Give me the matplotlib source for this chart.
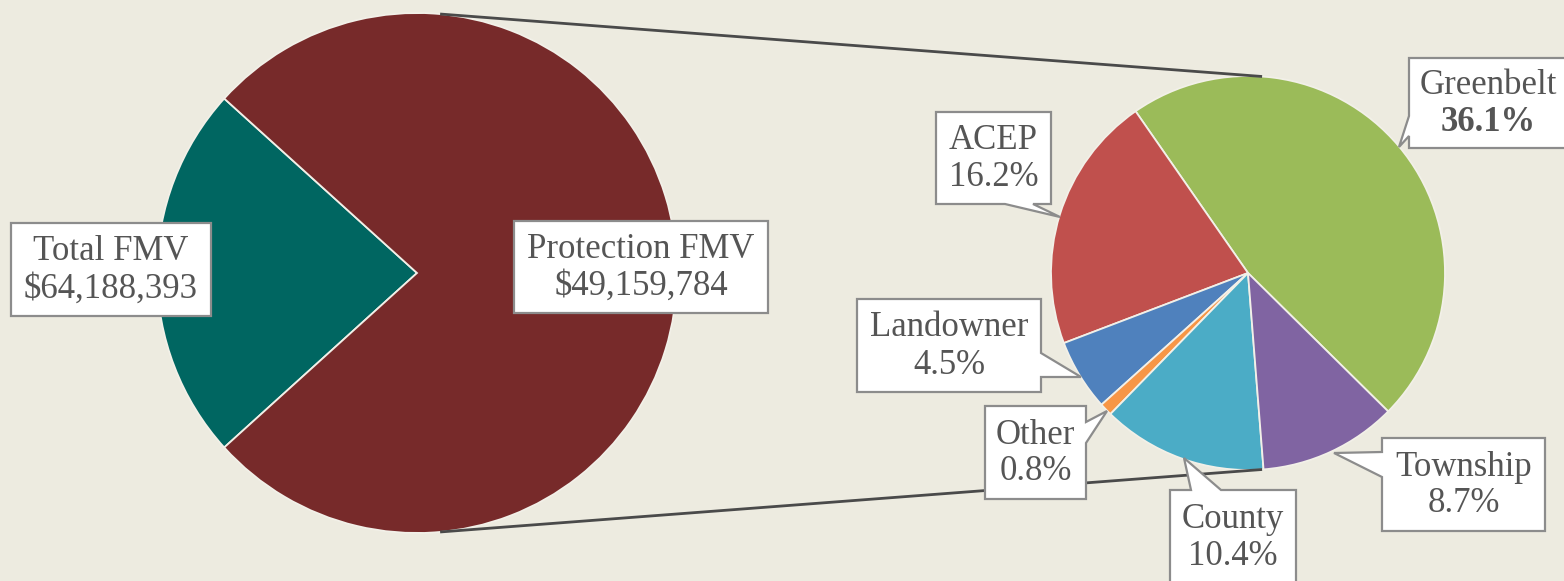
import math
import matplotlib
matplotlib.use("Agg")
import matplotlib.pyplot as plt
from matplotlib.patches import Polygon

# ---------------- data ----------------
fmv_total = 64188393
fmv_protection = 49159784
big_labels = ["Total FMV", "Protection FMV"]
big_amounts = [fmv_total, fmv_protection]

small_labels = ["Greenbelt", "ACEP", "Landowner", "Other", "County", "Township"]
small_pcts = [36.1, 16.2, 4.5, 0.8, 10.4, 8.7]

# ---------------- style ----------------
W, H = 1564, 581
BG = "#EDEBE0"
big_colors = ["#006661", "#772A2A"]
small_colors = ["#9BBB59", "#C0504D", "#4F81BD", "#F79646", "#4BACC6", "#8064A2"]
TXT = "#555555"
EDGE = "#8C8C8C"
FONT = "Liberation Serif"
FS = 25

fig = plt.figure(figsize=(W / 100, H / 100), dpi=100)
fig.patch.set_facecolor(BG)
ax = fig.add_axes([0, 0, 1, 1])
ax.set_facecolor(BG)


def Y(y):
    return H - y


# big pie (remainder slice first, then protection)
big_center = (417, Y(273))
big_r = 260
big_values = [fmv_total - fmv_protection, fmv_protection]
teal_deg = 360 * big_values[0] / sum(big_values)
ax.pie(big_values, colors=big_colors, center=big_center, radius=big_r,
       startangle=180 - teal_deg / 2, counterclock=True,
       wedgeprops=dict(edgecolor="#F2F0E8", linewidth=1.3))

# small pie
small_center = (1248, Y(273))
small_r = 197
green_deg = 360 * small_pcts[0] / sum(small_pcts)
ax.pie(small_pcts, colors=small_colors, center=small_center, radius=small_r,
       startangle=124.8 - green_deg, counterclock=True,
       wedgeprops=dict(edgecolor="#F2F0E8", linewidth=1.3))

ax.set_xlim(0, W)
ax.set_ylim(0, H)
ax.set_aspect("equal")
ax.axis("off")

# connector lines
for a1, a2 in [(84.9, 85.9), (-84.9, -85.9)]:
    p1 = (big_center[0] + big_r * math.cos(math.radians(a1)),
          big_center[1] + big_r * math.sin(math.radians(a1)))
    p2 = (small_center[0] + small_r * math.cos(math.radians(a2)),
          small_center[1] + small_r * math.sin(math.radians(a2)))
    ax.plot([p1[0], p2[0]], [p1[1], p2[1]], color="#4A4A4A", lw=2.0,
            solid_capstyle="butt", zorder=3)


def callout(box, text_lines, side=None, base=None, tip=None, bold_second=False):
    x0, y0, x1, y1 = box
    TL, TR, BR, BL = (x0, y0), (x1, y0), (x1, y1), (x0, y1)
    verts = [TL]
    if side == "top":
        verts += [(base[0], y0), tip, (base[1], y0)]
    verts.append(TR)
    if side == "right":
        verts += [(x1, base[0]), tip, (x1, base[1])]
    verts.append(BR)
    if side == "bottom":
        verts += [(base[1], y1), tip, (base[0], y1)]
    verts.append(BL)
    if side == "left":
        verts += [(x0, base[1]), tip, (x0, base[0])]
    verts = [(vx, Y(vy)) for vx, vy in verts]
    ax.add_patch(Polygon(verts, closed=True, facecolor="white",
                         edgecolor=EDGE, linewidth=1.6, zorder=5,
                         joinstyle="miter"))
    cx = (x0 + x1) / 2
    cy = (y0 + y1) / 2
    ax.text(cx, Y(cy - 9), text_lines[0], ha="center", va="baseline",
            family=FONT, fontsize=FS, color=TXT, zorder=6)
    ax.text(cx, Y(cy + 28), text_lines[1], ha="center", va="baseline",
            family=FONT, fontsize=FS, color=TXT, zorder=6,
            fontweight="bold" if bold_second else "normal")


# big pie labels
callout((11, 223, 211, 316), [big_labels[0], f"${big_amounts[0]:,}"])
callout((514, 221, 768, 313), [big_labels[1], f"${big_amounts[1]:,}"])

# small pie labels
small_boxes = {
    "Greenbelt": ((1409, 58, 1567, 148), "left", (116, 136), (1399, 147)),
    "ACEP": ((936, 112, 1051, 204), "bottom", (1005, 1033), (1060, 217)),
    "Landowner": ((857, 299, 1041, 392), "right", (353, 377), (1081, 377)),
    "Other": ((985, 406, 1086, 499), "right", (422, 443), (1107, 411)),
    "County": ((1170, 490, 1296, 584), "top", (1191, 1221), (1184, 458)),
    "Township": ((1382, 438, 1545, 531), "left", (452, 477), (1334, 453)),
}
for lab, pct in zip(small_labels, small_pcts):
    box, side, base, tip = small_boxes[lab]
    callout(box, [lab, f"{pct:.1f}%"], side, base, tip,
            bold_second=(lab == "Greenbelt"))

fig.savefig("out.png", dpi=100, facecolor=BG)
